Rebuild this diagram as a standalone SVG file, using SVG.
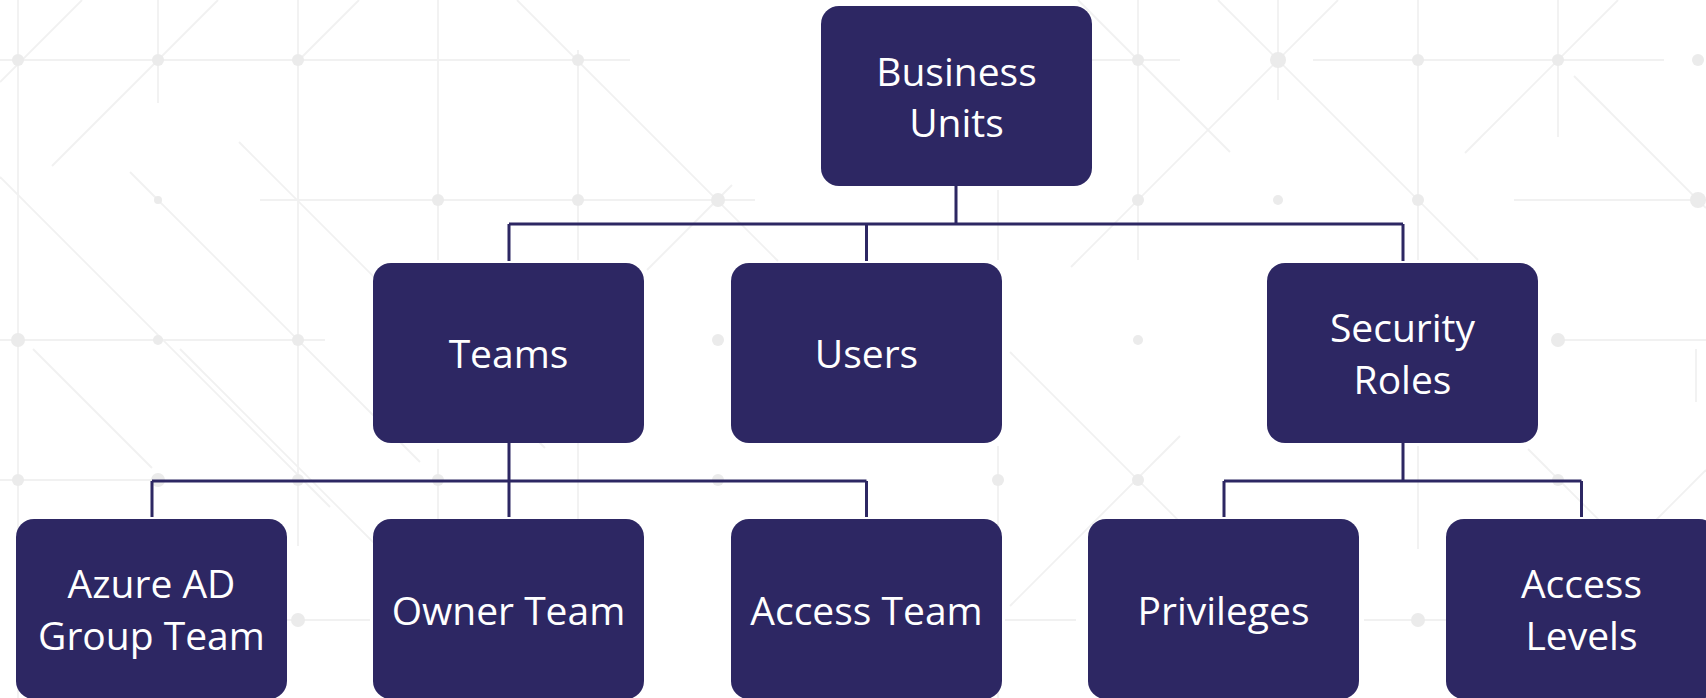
<svg xmlns="http://www.w3.org/2000/svg" width="1706" height="698" viewBox="0 0 1706 698">
<style>
.bg line{stroke:#f1f1f1;stroke-width:1.8;fill:none}
.bg circle{fill:#ebebeb}
.node rect{fill:#2d2763}
.node text{fill:#ffffff;font-family:"Segoe UI","Open Sans","Noto Sans",sans-serif;font-size:39px;text-anchor:middle}
#connectors path{stroke:#2d2763;stroke-width:3;fill:none}
</style>
<rect width="1706" height="698" fill="#ffffff"/>
<g class="bg" id="background">
<line x1="0" y1="60" x2="630" y2="60"/>
<line x1="1092" y1="60" x2="1180" y2="60"/>
<line x1="1313" y1="60" x2="1664" y2="60"/>
<line x1="260" y1="200" x2="755" y2="200"/>
<line x1="1514" y1="200" x2="1706" y2="200"/>
<line x1="0" y1="340" x2="325" y2="340"/>
<line x1="1560" y1="340" x2="1706" y2="340"/>
<line x1="0" y1="480" x2="160" y2="480"/>
<line x1="160" y1="620" x2="370" y2="620"/>
<line x1="1005" y1="620" x2="1076" y2="620"/>
<line x1="1364" y1="620" x2="1706" y2="620"/>
<line x1="18" y1="0" x2="18" y2="698"/>
<line x1="158" y1="0" x2="158" y2="103"/>
<line x1="298" y1="0" x2="298" y2="546"/>
<line x1="438" y1="0" x2="438" y2="260"/>
<line x1="438" y1="449" x2="438" y2="522"/>
<line x1="578" y1="50" x2="578" y2="260"/>
<line x1="578" y1="349" x2="578" y2="522"/>
<line x1="998" y1="190" x2="998" y2="260"/>
<line x1="998" y1="446" x2="998" y2="698"/>
<line x1="1138" y1="0" x2="1138" y2="260"/>
<line x1="1278" y1="0" x2="1278" y2="100"/>
<line x1="1418" y1="0" x2="1418" y2="260"/>
<line x1="1418" y1="446" x2="1418" y2="549"/>
<line x1="1558" y1="0" x2="1558" y2="137"/>
<line x1="1696" y1="349" x2="1696" y2="402"/>
<line x1="218" y1="0" x2="52" y2="166"/>
<line x1="82" y1="0" x2="0" y2="82"/>
<line x1="359" y1="0" x2="298" y2="61"/>
<line x1="517" y1="0" x2="778" y2="261"/>
<line x1="239" y1="142" x2="545" y2="448"/>
<line x1="130" y1="172" x2="420" y2="462"/>
<line x1="0" y1="177" x2="330" y2="507"/>
<line x1="732" y1="185" x2="647" y2="270"/>
<line x1="180" y1="349" x2="500" y2="669"/>
<line x1="33" y1="349" x2="152" y2="468"/>
<line x1="1078" y1="0" x2="1230" y2="152"/>
<line x1="1338" y1="0" x2="1071" y2="267"/>
<line x1="1218" y1="0" x2="1478" y2="260"/>
<line x1="1618" y1="0" x2="1465" y2="153"/>
<line x1="1574" y1="76" x2="1706" y2="208"/>
<line x1="1180" y1="436" x2="1010" y2="606"/>
<line x1="1010" y1="352" x2="1290" y2="632"/>
<line x1="1706" y1="470" x2="1642" y2="534"/>
<line x1="1528" y1="449" x2="1706" y2="627"/>
<circle cx="18" cy="60" r="6"/><circle cx="158" cy="60" r="6"/><circle cx="298" cy="60" r="6"/><circle cx="578" cy="60" r="6"/>
<circle cx="1138" cy="60" r="6"/><circle cx="1278" cy="60" r="8"/><circle cx="1418" cy="60" r="6"/><circle cx="1558" cy="60" r="6"/><circle cx="1698" cy="60" r="6"/>
<circle cx="158" cy="200" r="4"/><circle cx="438" cy="200" r="6"/><circle cx="578" cy="200" r="6"/><circle cx="718" cy="200" r="7"/>
<circle cx="1138" cy="200" r="6"/><circle cx="1278" cy="200" r="5"/><circle cx="1418" cy="200" r="6"/><circle cx="1698" cy="200" r="8"/>
<circle cx="18" cy="340" r="7"/><circle cx="158" cy="340" r="5"/><circle cx="298" cy="340" r="6"/><circle cx="718" cy="340" r="6"/><circle cx="1138" cy="340" r="5"/><circle cx="1558" cy="340" r="7"/>
<circle cx="18" cy="480" r="6"/><circle cx="158" cy="480" r="7"/><circle cx="298" cy="480" r="6"/><circle cx="438" cy="480" r="6"/><circle cx="718" cy="480" r="6"/>
<circle cx="998" cy="480" r="6"/><circle cx="1138" cy="480" r="6"/><circle cx="1558" cy="480" r="6"/>
<circle cx="298" cy="620" r="7"/><circle cx="1418" cy="620" r="7"/>
</g>
<g id="connectors">
<path d="M956 186V224M509 224H1403M509 224V261M866.5 224V261M1403 224V261"/>
<path d="M509 443V481M152 481H866.5M152 481V517M509 481V517M866.5 481V517"/>
<path d="M1403 443V481M1224 481H1581.5M1224 481V517M1581.5 481V517"/>
</g>
<g id="business-units" class="node"><rect x="821" y="6" width="271" height="180" rx="18"/><text x="956.5" y="86">Business</text><text x="956.5" y="137">Units</text></g>
<g id="teams" class="node"><rect x="373" y="263" width="271" height="180" rx="18"/><text x="508.5" y="368">Teams</text></g>
<g id="users" class="node"><rect x="731" y="263" width="271" height="180" rx="18"/><text x="866.5" y="368">Users</text></g>
<g id="security-roles" class="node"><rect x="1267" y="263" width="271" height="180" rx="18"/><text x="1402.5" y="342">Security</text><text x="1402.5" y="394">Roles</text></g>
<g id="azure-ad-group-team" class="node"><rect x="16" y="519" width="271" height="180" rx="18"/><text x="151.5" y="598">Azure AD</text><text x="151.5" y="650">Group Team</text></g>
<g id="owner-team" class="node"><rect x="373" y="519" width="271" height="180" rx="18"/><text x="508.5" y="625">Owner Team</text></g>
<g id="access-team" class="node"><rect x="731" y="519" width="271" height="180" rx="18"/><text x="866.5" y="625">Access Team</text></g>
<g id="privileges" class="node"><rect x="1088" y="519" width="271" height="180" rx="18"/><text x="1223.5" y="625">Privileges</text></g>
<g id="access-levels" class="node"><rect x="1446" y="519" width="271" height="180" rx="18"/><text x="1581.5" y="598">Access</text><text x="1581.5" y="650">Levels</text></g>
</svg>
